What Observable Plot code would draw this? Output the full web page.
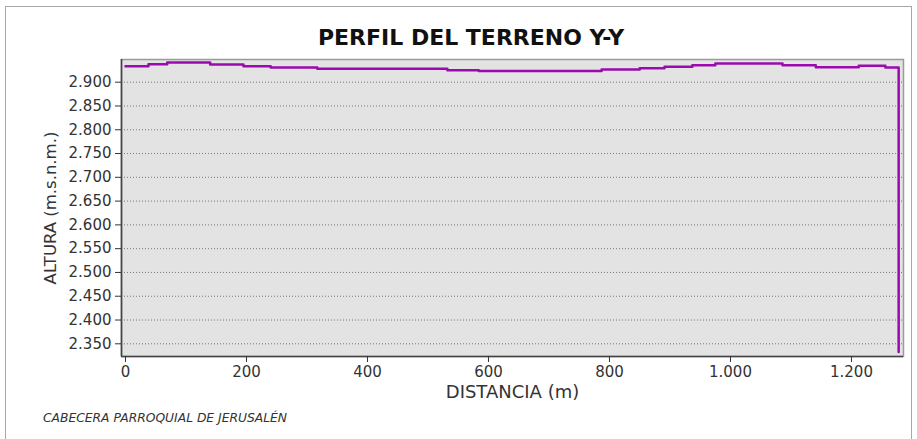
<!DOCTYPE html>
<html><head><meta charset="utf-8">
<script src="https://cdn.jsdelivr.net/npm/d3@7"></script>
<script src="https://cdn.jsdelivr.net/npm/@observablehq/plot@0.6"></script>
<style>
body{margin:0;background:#fff;}
#wrap{position:relative;width:917px;height:439px;overflow:hidden;font-family:"DejaVu Sans",sans-serif;}
#border{position:absolute;left:5px;top:6px;width:907px;height:460px;border:1.5px solid #a8a8a8;box-sizing:border-box;}
#title{position:absolute;left:0;top:25px;width:942px;text-align:center;font-weight:bold;font-size:22px;color:#111;line-height:normal;}
#caption{position:absolute;left:43px;top:411px;font-style:italic;font-size:12.3px;color:#333;line-height:normal;}
#chart{position:absolute;left:0;top:0;}
</style></head>
<body>
<div id="wrap">
  <div id="border"></div>
  <div id="chart"></div>
  <div id="title">PERFIL DEL TERRENO Y-Y</div>
  <div id="caption">CABECERA PARROQUIAL DE JERUSALÉN</div>
</div>
<script>
// Distance along profile (m) and elevation (m.s.n.m.)
const distancia = [0, 38, 69, 140, 195, 240, 317, 532, 584, 787, 850, 891, 937, 975, 1086, 1141, 1212, 1256, 1278];
const altura = [2933.6, 2937.8, 2941.4, 2937.2, 2933.6, 2930.9, 2928.2, 2925.2, 2923.5, 2926.7, 2929.4, 2932.4, 2935.7, 2939.3, 2935.7, 2931.5, 2934.5, 2930.9, 2333];
const yTicks = [2350, 2400, 2450, 2500, 2550, 2600, 2650, 2700, 2750, 2800, 2850, 2900];
const xTicks = [0, 200, 400, 600, 800, 1000, 1200];
const xDomain = [-6.6, 1286];
const yDomain = [2323.3, 2947.7];
const yLabel = "ALTURA (m.s.n.m.)";
const xLabel = "DISTANCIA (m)";

const data = distancia.map((d, i) => ({d, a: altura[i]}));
const fmt = v => d3.format(",")(v).replace(/,/g, ".");

const chart = Plot.plot({
  width: 917, height: 439,
  marginLeft: 121, marginRight: 14, marginTop: 59, marginBottom: 83,
  style: {fontFamily: "DejaVu Sans", fontSize: "15px", color: "#333", background: "transparent", overflow: "visible"},
  x: {domain: xDomain, label: null},
  y: {domain: yDomain, label: null},
  marks: [
    Plot.frame({fill: "#e3e3e3", stroke: "#9a9a9a", strokeWidth: 1.5}),
    Plot.gridY(yTicks, {stroke: "#777", strokeOpacity: 1, strokeDasharray: "1,2", strokeWidth: 1}),
    Plot.ruleX([xDomain[0]], {stroke: "#444", strokeWidth: 1.6}),
    Plot.ruleY([yDomain[0]], {stroke: "#444", strokeWidth: 1.6}),
    Plot.line(data, {x: "d", y: "a", curve: "step-after", stroke: "#9b0aae", strokeWidth: 2.5}),
    Plot.axisY(yTicks, {tickFormat: fmt, tickSize: 6, tickPadding: 4, stroke: "#333", fill: "#333", label: null}),
    Plot.axisX(xTicks, {tickFormat: fmt, tickSize: 6, tickPadding: 4, stroke: "#333", fill: "#333", label: null}),
    Plot.text([yLabel], {frameAnchor: "left", dx: -71, rotate: -90, textAnchor: "middle", lineAnchor: "middle", fontSize: 16.5, fill: "#333"}),
    Plot.text([xLabel], {frameAnchor: "bottom", dy: 36, textAnchor: "middle", lineAnchor: "middle", fontSize: 18, fill: "#333"})
  ]
});
document.getElementById("chart").appendChild(chart);
</script>
</body></html>
